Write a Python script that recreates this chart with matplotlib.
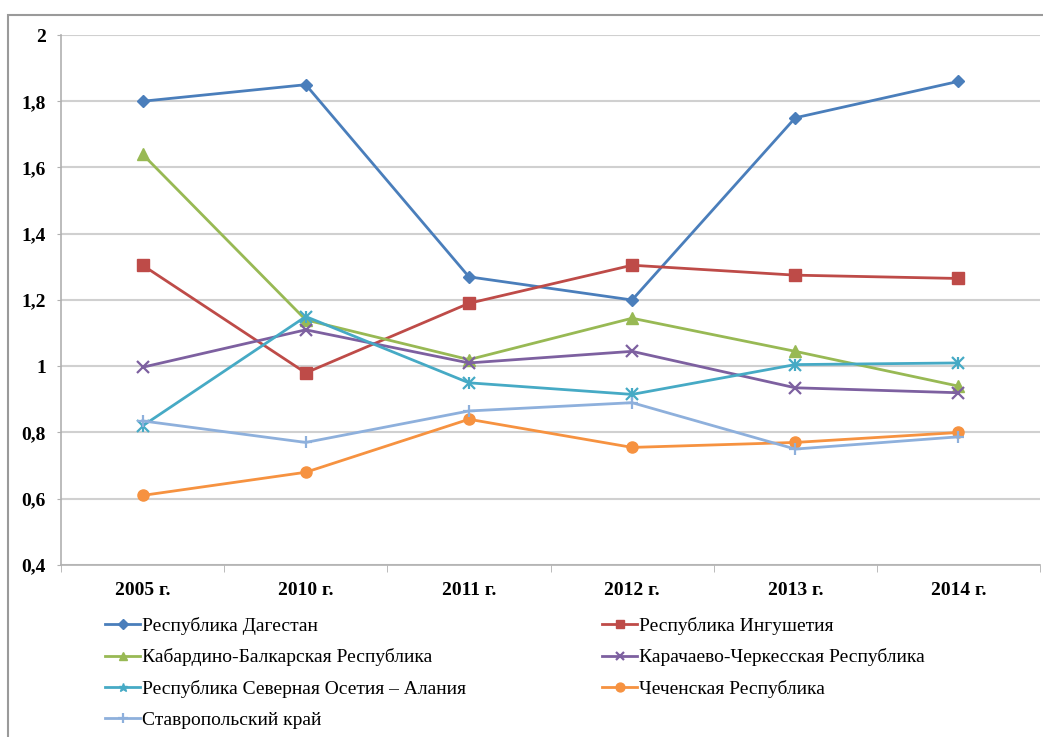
import matplotlib
matplotlib.use("Agg")
import matplotlib.pyplot as plt
from matplotlib.patches import Rectangle
from matplotlib.ticker import FixedLocator, FuncFormatter
import numpy as np

categories = ["2005 г.", "2010 г.", "2011 г.", "2012 г.", "2013 г.", "2014 г."]

dagestan = [1.80, 1.85, 1.27, 1.20, 1.75, 1.86]
ingushetia = [1.305, 0.98, 1.19, 1.305, 1.275, 1.265]
kbr = [1.64, 1.14, 1.02, 1.145, 1.045, 0.94]
kchr = [0.997, 1.11, 1.01, 1.045, 0.935, 0.92]
north_ossetia = [0.82, 1.15, 0.95, 0.915, 1.005, 1.01]
chechnya = [0.61, 0.68, 0.84, 0.755, 0.77, 0.80]
stavropol = [0.835, 0.77, 0.865, 0.89, 0.75, 0.787]

series_names = [
    "Республика Дагестан",
    "Республика Ингушетия",
    "Кабардино-Балкарская Республика",
    "Карачаево-Черкесская Республика",
    "Республика Северная Осетия – Алания",
    "Чеченская Республика",
    "Ставропольский край",
]
series_values = [dagestan, ingushetia, kbr, kchr, north_ossetia, chechnya, stavropol]
colors = ["#4A7EBB", "#BE4B48", "#98B954", "#7D60A0", "#46AAC5", "#F69240", "#8EB0DC"]
markers = ["D", "s", "^", "x", "*", "o", "+"]
msizes = [6, 8, 8, 8, 9, 8, 9]

plt.rcParams['font.family'] = ['Liberation Serif', 'DejaVu Serif']

fig = plt.figure(figsize=(10.43, 7.37), dpi=100)
fig.patch.set_facecolor("white")
fig.patches.append(Rectangle((8/1043, -0.1), 1.2, 1 - 15/737 + 0.1, transform=fig.transFigure,
                             fill=False, edgecolor="#9a9a9a", linewidth=1.5))

ax = fig.add_axes([61/1043, 1 - 565/737, (1040 - 61)/1043, (565 - 35)/737])
x = np.arange(len(categories))
handles = []
for name, vals, c, m, ms in zip(series_names, series_values, colors, markers, msizes):
    mew = 1.6 if m in ("x", "+", "*") else 1
    if m == "*":
        ax.plot(x, vals, color=c, linewidth=2, marker="x", markersize=8, markeredgewidth=1.6)
        ax.plot(x, vals, color=c, linewidth=0, marker="|", markersize=9, markeredgewidth=1.6)
        h, = ax.plot([], [], color=c, linewidth=2, marker="*", markersize=8, label=name)
    else:
        h, = ax.plot(x, vals, color=c, linewidth=2, marker=m, markersize=ms, markeredgewidth=mew,
                     label=name)
    handles.append(h)

ax.set_xlim(-0.5, len(categories) - 0.5)
ax.set_ylim(0.4, 2.0)
ax.set_yticks(np.arange(0.4, 2.01, 0.2))
ax.yaxis.set_major_formatter(FuncFormatter(lambda v, p: ("%g" % round(v, 1)).replace(".", ",")))
ax.set_xticks(x)
ax.set_xticklabels(categories)
ax.xaxis.set_minor_locator(FixedLocator(np.arange(-0.5, len(categories), 1.0)))
ax.tick_params(axis="x", which="major", length=0, pad=12, labelsize=14)
ax.tick_params(axis="x", which="minor", length=5, color="#b0b0b0", direction="out")
ax.tick_params(axis="y", length=3, color="#b0b0b0", pad=8, labelsize=14)
for lab in ax.get_xticklabels() + ax.get_yticklabels():
    lab.set_fontweight("bold")
ax.grid(axis="y", color="#d0d0d0", linewidth=1.5)
ax.set_axisbelow(True)
for s in ["top", "right"]:
    ax.spines[s].set_visible(False)
ax.spines["left"].set_color("#b0b0b0")
ax.spines["bottom"].set_color("#b0b0b0")
ax.spines["left"].set_linewidth(1.2)
ax.spines["bottom"].set_linewidth(1.2)

order = [0, 2, 4, 6, 1, 3, 5]
leg = fig.legend([handles[i] for i in order], [series_names[i] for i in order],
                 loc="upper left", bbox_to_anchor=(105/1043, 1 - 617/737),
                 ncol=2, frameon=False, fontsize=14, handlelength=1.8, handletextpad=0.1,
                 columnspacing=7.0, labelspacing=0.69, markerscale=0.8, borderpad=0,
                 borderaxespad=0)

fig.savefig("out.png", dpi=100, facecolor="white")
